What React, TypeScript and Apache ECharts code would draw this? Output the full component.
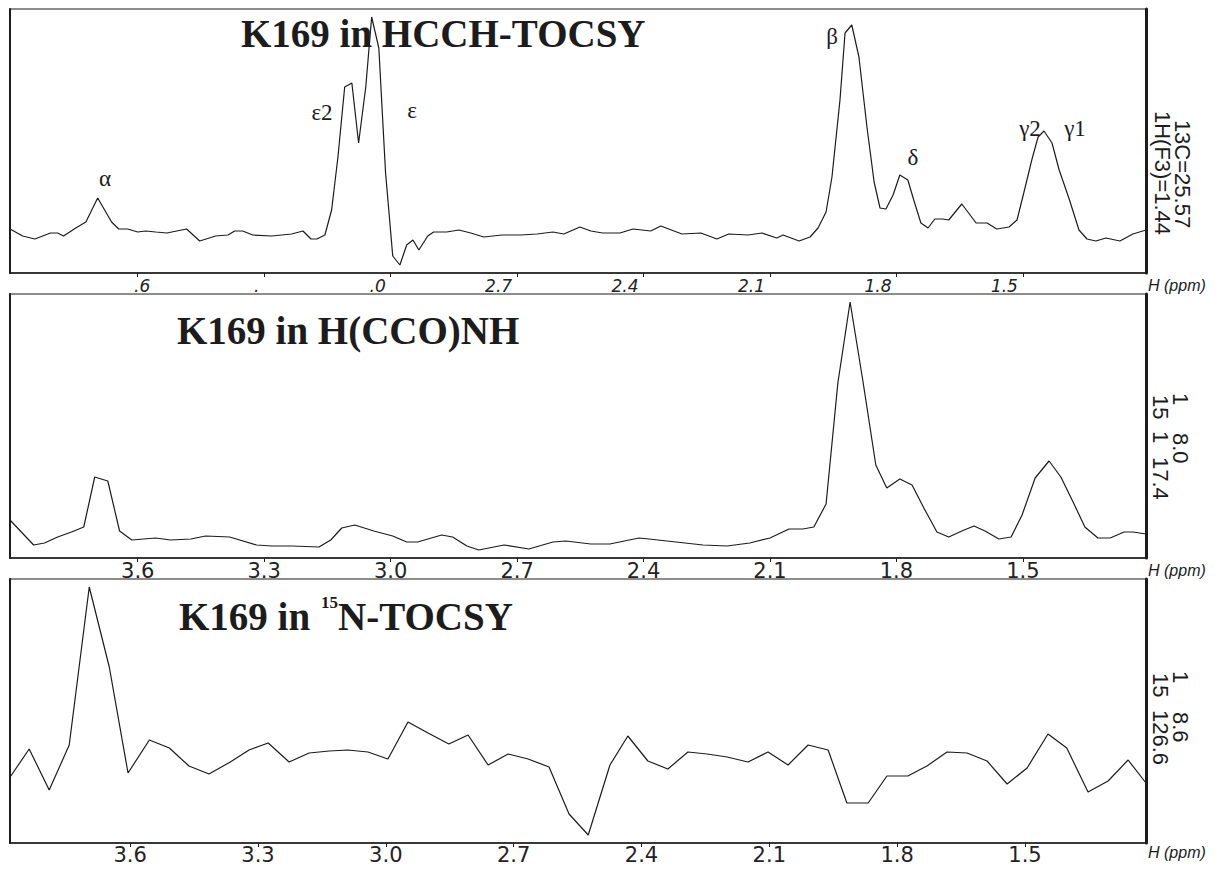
import React, { useEffect, useRef } from "react";
import * as echarts from "echarts";

// ---- tick values and labels (ppm, axes are reversed) ----
const tickValues = [3.6, 3.3, 3.0, 2.7, 2.4, 2.1, 1.8, 1.5];
const hcchTickLabels = [".6", ".", ".0", "2.7", "2.4", "2.1", "1.8", "1.5"];
const tickLabels = ["3.6", "3.3", "3.0", "2.7", "2.4", "2.1", "1.8", "1.5"];

// ---- panel 1: K169 in HCCH-TOCSY ----
const hcchPpm = [3.903, 3.873, 3.844, 3.807, 3.790, 3.776, 3.747, 3.723, 3.695, 3.662, 3.645, 3.624, 3.600, 3.581, 3.557, 3.531, 3.484, 3.453, 3.415, 3.386, 3.370, 3.351, 3.327, 3.282, 3.235, 3.208, 3.189, 3.175, 3.156, 3.140, 3.125, 3.109, 3.092, 3.076, 3.059, 3.045, 3.028, 3.012, 2.995, 2.978, 2.962, 2.947, 2.933, 2.912, 2.898, 2.867, 2.838, 2.810, 2.779, 2.736, 2.691, 2.653, 2.615, 2.589, 2.551, 2.525, 2.497, 2.456, 2.425, 2.383, 2.359, 2.309, 2.264, 2.226, 2.198, 2.152, 2.119, 2.084, 2.069, 2.031, 2.005, 1.986, 1.967, 1.953, 1.934, 1.922, 1.906, 1.889, 1.870, 1.853, 1.839, 1.825, 1.808, 1.792, 1.773, 1.759, 1.742, 1.725, 1.709, 1.690, 1.676, 1.645, 1.611, 1.585, 1.562, 1.533, 1.514, 1.498, 1.479, 1.464, 1.450, 1.431, 1.414, 1.391, 1.367, 1.348, 1.327, 1.303, 1.270, 1.239, 1.208];
const hcchIntensity = [44, 37, 34, 40, 40, 37, 45, 51, 75, 51, 44, 44, 41, 42, 41, 40, 44, 32, 37, 38, 42, 42, 38, 37, 39, 42, 34, 34, 38, 63, 116, 186, 190, 130, 186, 256, 225, 100, 17, 8, 28, 33, 23, 37, 41, 41, 43, 40, 36, 38, 38, 39, 41, 39, 46, 42, 40, 40, 44, 42, 47, 39, 40, 34, 39, 38, 40, 35, 38, 32, 36, 45, 61, 96, 173, 240, 248, 216, 146, 91, 65, 64, 78, 98, 93, 73, 50, 45, 54, 54, 53, 69, 50, 50, 44, 46, 53, 80, 113, 136, 142, 130, 103, 75, 43, 34, 32, 35, 32, 39, 43];

// ---- panel 2: K169 in H(CCO)NH ----
const hcconhPpm = [3.903, 3.847, 3.821, 3.790, 3.757, 3.728, 3.702, 3.671, 3.643, 3.614, 3.557, 3.522, 3.474, 3.439, 3.382, 3.318, 3.282, 3.235, 3.170, 3.142, 3.116, 3.085, 3.040, 2.995, 2.962, 2.936, 2.879, 2.853, 2.819, 2.791, 2.731, 2.672, 2.615, 2.584, 2.525, 2.480, 2.411, 2.387, 2.323, 2.259, 2.202, 2.148, 2.100, 2.055, 2.022, 1.996, 1.967, 1.939, 1.910, 1.880, 1.849, 1.823, 1.792, 1.763, 1.735, 1.704, 1.676, 1.645, 1.616, 1.590, 1.557, 1.528, 1.502, 1.471, 1.438, 1.410, 1.381, 1.353, 1.322, 1.293, 1.260, 1.239, 1.208];
const hcconhIntensity = [38, 13, 15, 21, 26, 31, 81, 77, 27, 18, 20, 18, 19, 22, 21, 13, 12, 12, 11, 18, 30, 33, 27, 22, 16, 16, 23, 21, 12, 8, 13, 9, 16, 17, 14, 14, 20, 19, 16, 13, 12, 15, 20, 29, 29, 31, 54, 175, 256, 178, 93, 70, 79, 73, 50, 26, 21, 27, 32, 27, 19, 21, 43, 80, 97, 81, 56, 31, 20, 20, 26, 26, 24];

// ---- panel 3: K169 in 15N-TOCSY ----
const tocsyPpm = [3.880, 3.837, 3.790, 3.743, 3.696, 3.649, 3.605, 3.555, 3.508, 3.462, 3.415, 3.365, 3.321, 3.276, 3.227, 3.180, 3.133, 3.089, 3.042, 2.995, 2.948, 2.901, 2.852, 2.807, 2.760, 2.713, 2.666, 2.617, 2.570, 2.525, 2.474, 2.432, 2.385, 2.338, 2.291, 2.246, 2.199, 2.150, 2.103, 2.056, 2.009, 1.962, 1.918, 1.868, 1.824, 1.775, 1.730, 1.683, 1.636, 1.589, 1.542, 1.495, 1.446, 1.402, 1.352, 1.305, 1.258, 1.216];
const tocsyIntensity = [67, 94, 53, 98, 256, 176, 70, 103, 95, 77, 69, 81, 93, 100, 81, 90, 92, 93, 91, 84, 121, 110, 99, 108, 78, 89, 84, 76, 29, 8, 78, 107, 82, 74, 91, 89, 86, 81, 91, 78, 98, 93, 40, 40, 67, 67, 77, 91, 90, 82, 59, 75, 109, 95, 51, 62, 83, 60];

// ---- peak annotations (panel 1) ----
const peakNames = ["α", "ε2", "ε", "β", "δ", "γ2", "γ1"];

const INK = "#1c1c1c";
const GRID_TOPS = [9, 294, 579];
const GRID_LEFT = 10;
const GRID_W = 1136;
const GRID_H = 264;
const X_RANGES = [
  [1.208, 3.903],
  [1.208, 3.903],
  [1.216, 3.882],
];

function idxOf(v: number) {
  let best = 0;
  for (let i = 0; i < tickValues.length; i++) {
    if (Math.abs(tickValues[i] - v) < Math.abs(tickValues[best] - v)) best = i;
  }
  return best;
}

const italicTick = {
  fontFamily: "DejaVu Sans",
  fontStyle: "italic" as const,
  fontSize: 17,
  color: "#222",
};

function buildOption() {
  const series = [
    [hcchPpm, hcchIntensity],
    [hcconhPpm, hcconhIntensity],
    [tocsyPpm, tocsyIntensity],
  ].map(([px, py], i) => ({
    type: "line",
    xAxisIndex: i,
    yAxisIndex: i * 2,
    data: px.map((p, k) => [p, py[k]]),
    showSymbol: false,
    symbol: "none",
    lineStyle: { color: INK, width: 1.2 },
    silent: true,
    clip: true,
  }));

  const grids = GRID_TOPS.map((top) => ({
    left: GRID_LEFT,
    top,
    width: GRID_W,
    height: GRID_H,
    show: true,
    borderColor: INK,
    borderWidth: 1.2,
    backgroundColor: "transparent",
  }));

  const xAxes = GRID_TOPS.map((_, i) => ({
    gridIndex: i,
    type: "value",
    inverse: true,
    min: X_RANGES[i][0],
    max: X_RANGES[i][1],
    splitLine: { show: false },
    axisLine: { show: true, onZero: false, lineStyle: { color: INK, width: 1.6 } },
    axisTick: {
      show: true,
      inside: false,
      length: 4,
      customValues: tickValues,
      lineStyle: { color: INK, width: 1 },
    },
    axisLabel:
      i === 0
        ? {
            customValues: tickValues,
            margin: 4,
            align: "center",
            formatter: (v: number) => {
              const lab = hcchTickLabels[idxOf(v)];
              const st = lab === ".6" ? "lp" : lab === "." ? "r1" : lab === ".0" ? "r2" : "r3";
              return `{${st}|${lab}}`;
            },
            rich: {
              lp: { ...italicTick, padding: [0, 0, 0, 9] },
              r1: { ...italicTick, padding: [0, 15, 0, 0] },
              r2: { ...italicTick, padding: [0, 26, 0, 0] },
              r3: { ...italicTick, padding: [0, 37, 0, 0] },
            },
          }
        : {
            customValues: tickValues,
            margin: i === 1 ? 2 : 1,
            fontFamily: "DejaVu Sans",
            fontSize: 21,
            color: "#222",
            formatter: (v: number) => tickLabels[idxOf(v)],
          },
  }));

  const yAxes: any[] = [];
  GRID_TOPS.forEach((_, i) => {
    yAxes.push({
      gridIndex: i,
      type: "value",
      min: 0,
      max: GRID_H,
      position: "left",
      axisLine: { show: true, lineStyle: { color: INK, width: 2 } },
      axisTick: { show: false },
      axisLabel: { show: false },
      splitLine: { show: false },
    });
    yAxes.push({
      gridIndex: i,
      type: "value",
      min: 0,
      max: GRID_H,
      position: "right",
      axisLine: { show: true, lineStyle: { color: INK, width: 3 } },
      axisTick: { show: false },
      axisLabel: { show: false },
      splitLine: { show: false },
    });
  });

  const txt = (
    text: string,
    x: number,
    y: number,
    o: { size: number; family: string; weight?: string; italic?: boolean; align?: string; va?: string; rot?: number }
  ) => ({
    type: "text",
    x,
    y,
    rotation: o.rot || 0,
    z: 1,
    silent: true,
    style: {
      text,
      fill: INK,
      fontSize: o.size,
      fontFamily: o.family,
      fontWeight: o.weight || "normal",
      fontStyle: o.italic ? "italic" : "normal",
      align: o.align || "left",
      textAlign: o.align || "left",
      verticalAlign: o.va || "middle",
      textVerticalAlign: o.va || "middle",
    },
  });

  const serif = "Liberation Serif, Times New Roman, serif";
  const sans = "Liberation Sans, Arial, sans-serif";
  const title = { size: 39, family: serif, weight: "bold" };
  const greek = { size: 23, family: serif, align: "center" };
  const vert = { size: 22, family: sans, rot: -Math.PI / 2 };
  const vertC = { ...vert, align: "center" };
  const ppmName = { size: 16, family: sans, italic: true };
  const greekPos = [
    [105, 178],
    [322, 112],
    [412, 110],
    [832, 36],
    [913, 157],
    [1030, 128],
    [1075, 128],
  ];

  const graphic = [
    txt("K169 in HCCH-TOCSY", 241, 33, title),
    txt("K169 in H(CCO)NH", 177, 330, title),
    txt("K169 in", 179, 616, title),
    txt("15", 321, 602, { size: 17, family: serif, weight: "bold" }),
    txt("N-TOCSY", 338, 616, title),
    ...peakNames.map((n, i) => txt(n, greekPos[i][0], greekPos[i][1], greek)),
    // right side labels
    txt("13C=25.57", 1182, 174, vertC),
    txt("1H(F3)=1.44", 1162, 173, vertC),
    txt("1", 1180, 393, vert),
    txt("8.0", 1180, 433, vert),
    txt("15", 1160, 395, vert),
    txt("1", 1160, 431, vert),
    txt("17.4", 1160, 457, vert),
    txt("1", 1180, 671, vert),
    txt("8.6", 1180, 712, vert),
    txt("15", 1160, 673, vert),
    txt("126.6", 1160, 710, vert),
    txt("H (ppm)", 1148, 285, ppmName),
    txt("H (ppm)", 1148, 570, ppmName),
    txt("H (ppm)", 1148, 852, ppmName),
  ];

  return {
    animation: false,
    backgroundColor: "#ffffff",
    grid: grids,
    xAxis: xAxes,
    yAxis: yAxes,
    series,
    graphic,
  };
}

export default function App() {
  const ref = useRef<HTMLDivElement>(null);
  useEffect(() => {
    if (!ref.current) return;
    const chart = echarts.init(ref.current, undefined, { renderer: "svg" });
    chart.setOption(buildOption() as any);
    return () => chart.dispose();
  }, []);
  return (
    <div
      ref={ref}
      style={{ position: "absolute", left: 0, top: 0, width: 1220, height: 869, background: "#fff" }}
    />
  );
}
